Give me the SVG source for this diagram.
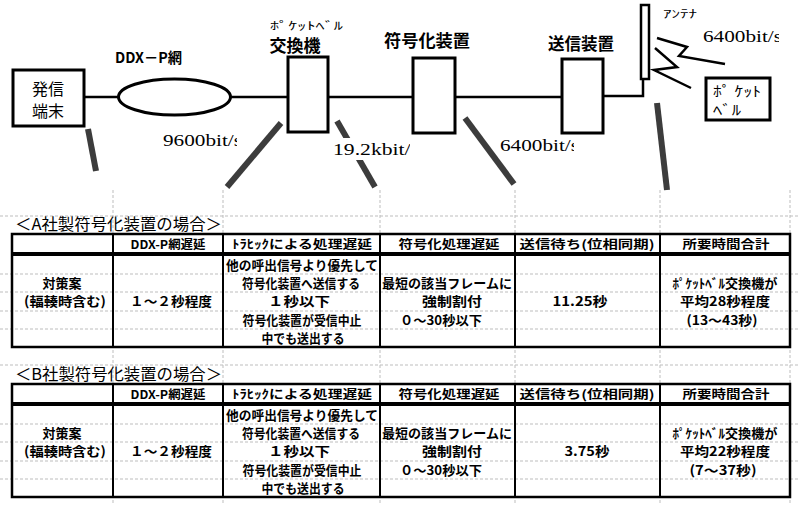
<svg xmlns="http://www.w3.org/2000/svg" width="800" height="505" viewBox="0 0 800 505">
<style>
.box{fill:#fff;stroke:#000;stroke-width:3}
.ln{fill:none;stroke:#000;stroke-width:2.5}
.lead{stroke:#3c3c3c;stroke-width:6;stroke-linecap:butt}
.jp{font-family:"Noto Sans CJK JP","Noto Sans CJK SC",sans-serif;fill:#000}
.lbl{font-size:17px;font-weight:bold;text-anchor:middle}
.sm{font-size:11px}
.num{font-family:"Liberation Serif","Noto Sans CJK JP",serif;font-size:16px;fill:#000}
.grid{stroke:#bdbdbd;stroke-width:1;stroke-dasharray:3 2;fill:none}
.brd{fill:none;stroke:#000;stroke-width:2.5}
.col{stroke:#000;stroke-width:2}
.t{font-size:13px;font-weight:bold;text-anchor:middle}
.h{font-size:12px}
.ttl{font-size:16px;font-weight:normal}
</style>
<defs>
<clipPath id="c9600"><rect x="160" y="128" width="77" height="22"/></clipPath>
<clipPath id="c192"><rect x="330" y="138" width="80" height="22"/></clipPath>
<clipPath id="c6400a"><rect x="498" y="134" width="76" height="22"/></clipPath>
<clipPath id="c6400b"><rect x="700" y="25" width="79" height="22"/></clipPath>
</defs>
<rect width="800" height="505" fill="#fff"/>

<g id="connectors">
<line class="ln" x1="84" y1="97" x2="118" y2="97"/>
<line class="ln" x1="231" y1="97" x2="288" y2="97"/>
<line class="ln" x1="328" y1="97" x2="413" y2="97"/>
<line class="ln" x1="455" y1="97" x2="562" y2="97"/>
<polyline class="ln" points="603,96 643,96 643,79"/>
<polyline class="ln" points="657,38 687,47 679,56 725,64"/>
<polyline class="ln" points="655,48 677,67 654,70 691,88"/>
<line class="lead" x1="88" y1="129" x2="96" y2="171"/>
<line class="lead" x1="281" y1="123" x2="227" y2="187"/>
<line class="lead" x1="337" y1="121" x2="375" y2="187"/>
<line class="lead" x1="465" y1="118" x2="514" y2="184"/>
<line class="lead" x1="657" y1="103" x2="667" y2="190"/>
</g>

<g id="terminal">
<rect class="box" x="13" y="70" width="71" height="56"/>
<text class="jp" x="48" y="95" font-size="16" text-anchor="middle">発信</text>
<text class="jp" x="48" y="117" font-size="16" text-anchor="middle">端末</text>
</g>

<g id="ddxp">
<ellipse cx="174.5" cy="97" rx="56" ry="18" fill="#fff" stroke="#000" stroke-width="3"/>
<text class="jp" x="115" y="63" font-size="15" font-weight="bold" textLength="67" lengthAdjust="spacingAndGlyphs">DDX－P網</text>
<g clip-path="url(#c9600)">
<rect x="160" y="128" width="77" height="22" fill="#fff"/>
<text class="num" x="163" y="146" textLength="79" lengthAdjust="spacingAndGlyphs">9600bit/s</text>
</g>
</g>

<g id="exchange">
<rect class="box" x="288" y="57" width="40" height="75"/>
<text class="jp sm" x="270" y="30" textLength="73" lengthAdjust="spacingAndGlyphs">ﾎﾟｹｯﾄﾍﾞﾙ</text>
<text class="jp lbl" x="295" y="52">交換機</text>
<g clip-path="url(#c192)">
<rect x="330" y="138" width="80" height="22" fill="#fff"/>
<text class="num" x="333" y="155" textLength="86" lengthAdjust="spacingAndGlyphs">19.2kbit/s</text>
</g>
</g>

<g id="encoder">
<rect class="box" x="413" y="58" width="42" height="75"/>
<text class="jp lbl" x="427" y="47" textLength="86" lengthAdjust="spacingAndGlyphs">符号化装置</text>
<g clip-path="url(#c6400a)">
<rect x="498" y="134" width="76" height="22" fill="#fff"/>
<text class="num" x="500" y="151" textLength="79" lengthAdjust="spacingAndGlyphs">6400bit/s</text>
</g>
</g>

<g id="transmitter">
<rect class="box" x="562" y="59" width="41" height="74"/>
<text class="jp lbl" x="581" y="50" textLength="66" lengthAdjust="spacingAndGlyphs">送信装置</text>
</g>

<g id="antenna">
<rect x="641" y="5" width="8" height="74" fill="#fff" stroke="#000" stroke-width="2.5"/>
<text class="jp sm" x="663" y="18" textLength="34" lengthAdjust="spacingAndGlyphs">ｱﾝﾃﾅ</text>
<g clip-path="url(#c6400b)">
<text class="num" x="703" y="42" textLength="79" lengthAdjust="spacingAndGlyphs">6400bit/s</text>
</g>
</g>

<g id="pager">
<rect class="box" x="706" y="78" width="64" height="42"/>
<text class="jp" x="713" y="96" font-size="14" textLength="48" lengthAdjust="spacingAndGlyphs">ﾎﾟ ｹｯﾄ</text>
<text class="jp" x="713" y="115" font-size="14" textLength="28" lengthAdjust="spacingAndGlyphs">ﾍﾞﾙ</text>
</g>

<g id="grid">
<line class="grid" x1="113" y1="190" x2="113" y2="505"/>
<line class="grid" x1="223" y1="190" x2="223" y2="505"/>
<line class="grid" x1="380" y1="190" x2="380" y2="505"/>
<line class="grid" x1="515" y1="190" x2="515" y2="505"/>
<line class="grid" x1="660" y1="190" x2="660" y2="505"/>
<line class="grid" x1="790" y1="190" x2="790" y2="505"/>
<line class="grid" x1="0" y1="216" x2="800" y2="216"/>
<line class="grid" x1="0" y1="274" x2="800" y2="274"/>
<line class="grid" x1="0" y1="292" x2="800" y2="292"/>
<line class="grid" x1="0" y1="311" x2="800" y2="311"/>
<line class="grid" x1="0" y1="329" x2="800" y2="329"/>
<line class="grid" x1="0" y1="365" x2="800" y2="365"/>
<line class="grid" x1="0" y1="424" x2="800" y2="424"/>
<line class="grid" x1="0" y1="442" x2="800" y2="442"/>
<line class="grid" x1="0" y1="461" x2="800" y2="461"/>
<line class="grid" x1="0" y1="479" x2="800" y2="479"/>
</g>

<g id="tableA">
<text class="jp ttl" x="15" y="230" textLength="207" lengthAdjust="spacingAndGlyphs">＜A社製符号化装置の場合＞</text>
<rect class="brd" x="12" y="234" width="778" height="113"/>
<rect x="12" y="252" width="778" height="4" fill="#000"/>
<line class="col" x1="113" y1="234" x2="113" y2="347"/>
<line class="col" x1="223" y1="234" x2="223" y2="347"/>
<line class="col" x1="380" y1="234" x2="380" y2="347"/>
<line class="col" x1="515" y1="234" x2="515" y2="347"/>
<line class="col" x1="660" y1="234" x2="660" y2="347"/>
<g class="jp t">
<text class="h" x="168" y="249" textLength="75" lengthAdjust="spacingAndGlyphs">DDX-P網遅延</text>
<text class="h" x="302" y="249" textLength="140" lengthAdjust="spacingAndGlyphs">ﾄﾗﾋｯｸによる処理遅延</text>
<text class="h" x="449" y="249" textLength="101" lengthAdjust="spacingAndGlyphs">符号化処理遅延</text>
<text class="h" x="587" y="249" textLength="135" lengthAdjust="spacingAndGlyphs">送信待ち(位相同期)</text>
<text class="h" x="726" y="249" textLength="87" lengthAdjust="spacingAndGlyphs">所要時間合計</text>
<text x="62" y="288">対策案</text>
<text x="65" y="306" textLength="82" lengthAdjust="spacingAndGlyphs">(輻輳時含む)</text>
<text x="171" y="306" textLength="82" lengthAdjust="spacingAndGlyphs">１～２秒程度</text>
<text x="302" y="270" textLength="152" lengthAdjust="spacingAndGlyphs">他の呼出信号より優先して</text>
<text x="301" y="288" textLength="118" lengthAdjust="spacingAndGlyphs">符号化装置へ送信する</text>
<text x="299" y="306" textLength="62" lengthAdjust="spacingAndGlyphs">１秒以下</text>
<text x="302" y="325" textLength="119" lengthAdjust="spacingAndGlyphs">符号化装置が受信中止</text>
<text x="303" y="343" textLength="83" lengthAdjust="spacingAndGlyphs">中でも送出する</text>
<text x="447" y="288" textLength="130" lengthAdjust="spacingAndGlyphs">最短の該当フレームに</text>
<text x="452" y="306" textLength="60" lengthAdjust="spacingAndGlyphs">強制割付</text>
<text x="441" y="325" textLength="82" lengthAdjust="spacingAndGlyphs">０～30秒以下</text>
<text x="580" y="306" textLength="55" lengthAdjust="spacingAndGlyphs">11.25秒</text>
<text x="725" y="288" textLength="105" lengthAdjust="spacingAndGlyphs">ﾎﾟｹｯﾄﾍﾞﾙ交換機が</text>
<text x="725" y="306" textLength="90" lengthAdjust="spacingAndGlyphs">平均28秒程度</text>
<text x="722" y="325" textLength="71" lengthAdjust="spacingAndGlyphs">(13～43秒)</text>
</g>
</g>

<g id="tableB">
<text class="jp ttl" x="15" y="380" textLength="207" lengthAdjust="spacingAndGlyphs">＜B社製符号化装置の場合＞</text>
<rect class="brd" x="12" y="384" width="778" height="113"/>
<rect x="12" y="402" width="778" height="4" fill="#000"/>
<line class="col" x1="113" y1="384" x2="113" y2="497"/>
<line class="col" x1="223" y1="384" x2="223" y2="497"/>
<line class="col" x1="380" y1="384" x2="380" y2="497"/>
<line class="col" x1="515" y1="384" x2="515" y2="497"/>
<line class="col" x1="660" y1="384" x2="660" y2="497"/>
<g class="jp t">
<text class="h" x="168" y="399" textLength="75" lengthAdjust="spacingAndGlyphs">DDX-P網遅延</text>
<text class="h" x="302" y="399" textLength="140" lengthAdjust="spacingAndGlyphs">ﾄﾗﾋｯｸによる処理遅延</text>
<text class="h" x="449" y="399" textLength="101" lengthAdjust="spacingAndGlyphs">符号化処理遅延</text>
<text class="h" x="587" y="399" textLength="135" lengthAdjust="spacingAndGlyphs">送信待ち(位相同期)</text>
<text class="h" x="726" y="399" textLength="87" lengthAdjust="spacingAndGlyphs">所要時間合計</text>
<text x="62" y="438">対策案</text>
<text x="65" y="456" textLength="82" lengthAdjust="spacingAndGlyphs">(輻輳時含む)</text>
<text x="171" y="456" textLength="82" lengthAdjust="spacingAndGlyphs">１～２秒程度</text>
<text x="302" y="420" textLength="152" lengthAdjust="spacingAndGlyphs">他の呼出信号より優先して</text>
<text x="301" y="438" textLength="118" lengthAdjust="spacingAndGlyphs">符号化装置へ送信する</text>
<text x="299" y="456" textLength="62" lengthAdjust="spacingAndGlyphs">１秒以下</text>
<text x="302" y="475" textLength="119" lengthAdjust="spacingAndGlyphs">符号化装置が受信中止</text>
<text x="303" y="493" textLength="83" lengthAdjust="spacingAndGlyphs">中でも送出する</text>
<text x="447" y="438" textLength="130" lengthAdjust="spacingAndGlyphs">最短の該当フレームに</text>
<text x="452" y="456" textLength="60" lengthAdjust="spacingAndGlyphs">強制割付</text>
<text x="441" y="475" textLength="82" lengthAdjust="spacingAndGlyphs">０～30秒以下</text>
<text x="587" y="456" textLength="45" lengthAdjust="spacingAndGlyphs">3.75秒</text>
<text x="725" y="438" textLength="105" lengthAdjust="spacingAndGlyphs">ﾎﾟｹｯﾄﾍﾞﾙ交換機が</text>
<text x="725" y="456" textLength="90" lengthAdjust="spacingAndGlyphs">平均22秒程度</text>
<text x="723" y="475" textLength="67" lengthAdjust="spacingAndGlyphs">(7～37秒)</text>
</g>
</g>
</svg>
